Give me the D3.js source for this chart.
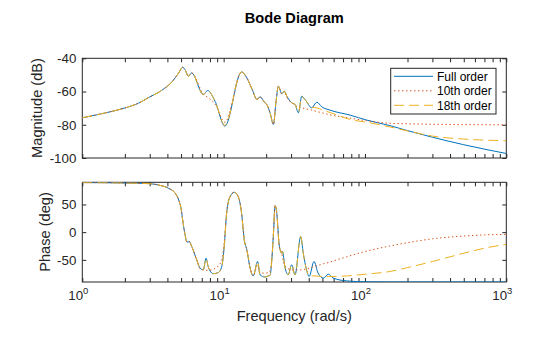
<!DOCTYPE html>
<html><head><meta charset="utf-8">
<script src="https://cdn.jsdelivr.net/npm/d3@7/dist/d3.min.js"></script>
<style>body{margin:0;background:#fff}svg{display:block;font-family:"Liberation Sans",Arial,sans-serif}</style>
</head><body><svg id="c" width="560" height="337"></svg>
<script>
// ---- data ----
const magFreq = [1,1.5,2,2.5,2.95,3.66,4.31,4.81,5.13,5.33,5.63,5.94,7.18,7.71,8.69,10.2,13.4,14.6,16,17.2,18.1,19.6,20.2,21.3,22.5,23.5,24.4,25.8,26.8,28,30.3,32,33.8,35.7,37.7,42,45.6,49.5,56.6,78.5,103,150,200,300,500,1000];
const magFull = [-75.8,-72.6,-69.9,-67.0,-63.6,-59.2,-54.2,-48.8,-45.4,-46.8,-50.8,-48.8,-61.8,-59.4,-65.8,-80.8,-48.2,-51.8,-59.2,-64.8,-63.2,-66.8,-67.8,-72.8,-79.8,-65.8,-56.8,-61.4,-59.8,-62.8,-66.8,-67.8,-72.8,-62.8,-64.8,-69.8,-66.4,-69.2,-71.2,-74.2,-77.2,-80.5,-83.5,-87.5,-92.0,-97.3];
const mag10   = [-75.8,-72.6,-69.9,-67.0,-63.6,-59.2,-54.2,-48.8,-45.4,-46.8,-50.8,-48.8,-61.5,-63.5,-67.5,-78.5,-48.2,-51.8,-59.2,-64.8,-63.2,-66.8,-67.8,-72.8,-79.8,-65.8,-56.8,-61.4,-59.8,-63.5,-66.8,-68.0,-69.5,-69.8,-70.3,-71.2,-72.0,-72.8,-74.0,-76.0,-77.6,-79.1,-79.4,-79.7,-79.9,-80.0];
const mag18   = [-75.8,-72.6,-69.9,-67.0,-63.6,-59.2,-54.2,-48.8,-45.4,-46.8,-50.8,-48.8,-61.8,-59.4,-65.8,-80.3,-48.2,-51.8,-59.2,-64.8,-63.2,-66.8,-67.8,-72.8,-79.8,-65.8,-56.8,-61.4,-59.8,-62.8,-66.8,-67.8,-72.5,-63.2,-65.0,-69.5,-69.8,-71.0,-72.6,-76.8,-78.5,-81.3,-83.7,-86.8,-88.6,-89.6];

const phaseFreq = [1,2,3,3.47,4.09,4.55,4.81,5.02,5.13,5.31,5.51,5.72,5.95,6.45,6.81,7.18,7.51,7.79,8.45,9.17,9.7,10.1,10.5,11.1,11.9,12.7,13.4,14,14.6,15.4,16.2,17.4,18.1,19.6,20.7,21.3,22,22.6,23.1,23.7,24.8,25.8,26.1,27.1,28.6,30.3,32,35.1,36.6,38.6,40.3,43.6,46.6,50.8,55,59.7,74.3,100,150,200,300,500,700,1000];
const phaseFull = [89.5,88.8,87.5,85,79,70,58,40,22,-2,-18,-17,-26,-50,-65,-68,-47,-63,-75,-73,-62,-26,34,64,72,64,34,-14,-32,-65,-79,-53,-77,-81,-79,-78,-45,5,48,37,-26,-38,-35,-62,-77,-59,-77,-8,-38,-68,-80,-53,-74,-83,-76,-83,-88,-89.6,-90,-90,-90,-90,-90,-90];
const phase10   = [89.5,88.8,87.5,85,79,70,58,40,22,-2,-18,-17,-26,-50,-66,-68,-69,-69,-67,-61,-50,-18,36,64,72,64,34,-14,-32,-65,-79,-60,-74,-74,-73,-70,-42,5,48,37,-26,-38,-45,-60,-66,-68,-68.5,-68,-67.5,-66.5,-65,-62,-60,-57,-55,-52,-44.5,-35,-25,-19,-12,-7,-5,-4];
const phase18   = [89.5,88.8,87.5,85,79,70,58,40,22,-2,-18,-17,-26,-50,-65,-68,-47,-63,-75,-73,-62,-26,34,64,72,64,34,-14,-32,-65,-79,-53,-77,-81,-79,-78,-45,5,48,37,-26,-38,-35,-62,-77,-59,-77,-8,-38,-68,-79,-79,-79.5,-80,-80,-80,-79,-76,-71,-64,-53,-38,-29,-22];

const seriesNames = ["Full order","10th order","18th order"];
const colors = ["#0072BD","#D95319","#EDB120"];
const dashes = [null,"1.4,2.6","10,5"];
const magTicks = [-100,-80,-60,-40];
const phaseTicks = [-50,0,50];
const decades = [1,10,100,1000];

// ---- layout ----
const svg = d3.select("#c");
const L = 82.3, R = 506.3;
const x = d3.scaleLog().domain([1,1000]).range([L,R]);
const yMag = d3.scaleLinear().domain([-100,-40]).range([158,58.3]);
const yPh = d3.scaleLinear().domain([-90,90]).range([282,182.3]);
const axisColor = "#262626";
const minor = [];
for (let d=1; d<1000; d*=10) for (let k=1;k<10;k++) minor.push(d*k);
minor.push(1000);

function panel(y, ticks, id, showX){
  const [b,t] = y.range();
  svg.append("clipPath").attr("id",id).append("rect").attr("x",L).attr("y",t).attr("width",R-L).attr("height",b-t);
  const g = svg.append("g");
  const ax = (sel)=>{ sel.selectAll("path.domain").remove(); sel.selectAll("line").attr("stroke",axisColor); sel.selectAll("text").attr("fill",axisColor); };
  g.append("g").attr("transform",`translate(0,${b})`).call(d3.axisBottom(x).tickValues(minor).tickSize(-4).tickFormat("")).call(ax);
  g.append("g").attr("transform",`translate(0,${t})`).call(d3.axisTop(x).tickValues(minor).tickSize(-4).tickFormat("")).call(ax);
  g.append("g").attr("transform",`translate(${L},0)`).call(d3.axisLeft(y).tickValues(ticks).tickSize(-4).tickPadding(6).tickFormat(d=>String(d))).call(ax)
    .selectAll("text").attr("font-size","13.3px");
  g.append("g").attr("transform",`translate(${R},0)`).call(d3.axisRight(y).tickValues(ticks).tickSize(-4).tickFormat("")).call(ax);
  g.append("rect").attr("x",L).attr("y",t).attr("width",R-L).attr("height",b-t).attr("fill","none").attr("stroke",axisColor).attr("stroke-width",1);
  if (showX){
    const lab = g.append("g");
    decades.forEach(d=>{
      const tx = lab.append("text").attr("x",x(d)-4).attr("y",b+18).attr("text-anchor","middle").attr("fill",axisColor).attr("font-size","13.3px");
      tx.append("tspan").text("10");
      tx.append("tspan").attr("dy",-6).attr("font-size","9.5px").text(String(Math.round(Math.log10(d))));
    });
  }
  return g;
}
const gm = panel(yMag, magTicks, "cm", false);
const gp = panel(yPh, phaseTicks, "cp", true);

function draw(freq, vals, y, clip, i){
  const pts = freq.map((f,j)=>[x(f), y(vals[j])]);
  svg.append("path").attr("clip-path",`url(#${clip})`).attr("d", d3.line().curve(d3.curveMonotoneX)(pts))
    .attr("fill","none").attr("stroke",colors[i]).attr("stroke-width",1)
    .attr("stroke-dasharray",dashes[i]);
}
[magFull,mag10,mag18].forEach((v,i)=>draw(magFreq,v,yMag,"cm",i));
[phaseFull,phase10,phase18].forEach((v,i)=>draw(phaseFreq,v,yPh,"cp",i));

// ---- text ----
svg.append("text").attr("x",294.3).attr("y",23).attr("text-anchor","middle").attr("font-weight","bold").attr("font-size","14.6px").attr("fill","#000").text("Bode Diagram");
svg.append("text").attr("transform","translate(42,108) rotate(-90)").attr("text-anchor","middle").attr("font-size","14.6px").attr("fill",axisColor).text("Magnitude (dB)");
svg.append("text").attr("transform","translate(49.5,232) rotate(-90)").attr("text-anchor","middle").attr("font-size","14.6px").attr("fill",axisColor).text("Phase (deg)");
svg.append("text").attr("x",294.3).attr("y",321).attr("text-anchor","middle").attr("font-size","14.6px").attr("fill",axisColor).text("Frequency (rad/s)");

// ---- legend ----
const lg = svg.append("g");
lg.append("rect").attr("x",390.7).attr("y",68.3).attr("width",105.3).attr("height",45.7).attr("fill","#fff").attr("stroke",axisColor).attr("stroke-width",1);
seriesNames.forEach((n,i)=>{
  const yy = 76.3 + i*14.5;
  lg.append("line").attr("x1",394).attr("x2",433).attr("y1",yy).attr("y2",yy).attr("stroke",colors[i]).attr("stroke-width",1).attr("stroke-dasharray",dashes[i]);
  lg.append("text").attr("x",437).attr("y",yy).attr("dy","0.35em").attr("font-size","12px").attr("fill","#000").text(n);
});
</script></body></html>
